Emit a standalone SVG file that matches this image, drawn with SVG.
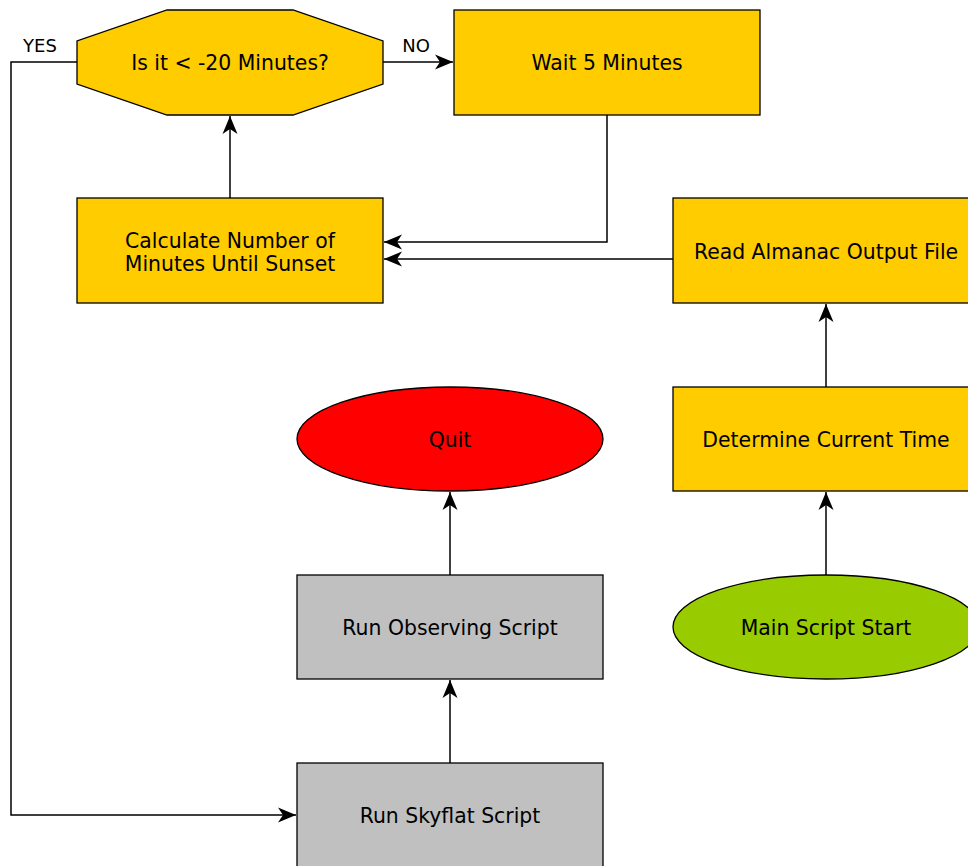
<svg xmlns="http://www.w3.org/2000/svg" width="968" height="866" viewBox="0 0 968 866">
<defs>
<style>
.n{stroke:#000;stroke-width:1.3}
.y{fill:#ffcc00}
.g{fill:#c0c0c0}
.t{font-family:"DejaVu Sans",sans-serif;font-size:20.4px;fill:#000;text-anchor:middle}
.l{font-family:"DejaVu Sans",sans-serif;font-size:18px;fill:#000;text-anchor:middle}
.c{fill:none;stroke:#000;stroke-width:1.5}
</style>
<marker id="a" markerUnits="userSpaceOnUse" markerWidth="20" markerHeight="20" viewBox="-19 -9 20 18" refX="0" refY="0" orient="auto">
<path d="M0,0 L-18,-7.5 L-13,0 L-18,7.5 Z" fill="#000"/>
</marker>
</defs>
<rect width="968" height="866" fill="#fff"/>
<g id="connectors">
<polyline class="c" points="77,62 11,62 11,815 296,815" marker-end="url(#a)"/>
<line class="c" x1="383" y1="62" x2="453" y2="62" marker-end="url(#a)"/>
<polyline class="c" points="607,115 607,242 384,242" marker-end="url(#a)"/>
<line class="c" x1="673" y1="259" x2="384" y2="259" marker-end="url(#a)"/>
<line class="c" x1="230" y1="198" x2="230" y2="116" marker-end="url(#a)"/>
<line class="c" x1="826" y1="387" x2="826" y2="304" marker-end="url(#a)"/>
<line class="c" x1="826" y1="575" x2="826" y2="492" marker-end="url(#a)"/>
<line class="c" x1="450" y1="575" x2="450" y2="492" marker-end="url(#a)"/>
<line class="c" x1="450" y1="763" x2="450" y2="680" marker-end="url(#a)"/>
<text class="l" x="40" y="52">YES</text>
<text class="l" x="416" y="52">NO</text>
</g>
<g id="decision">
<polygon class="n y" points="167,10 293,10 383,41 383,84 293,115 167,115 77,84 77,41"/>
<text class="t" x="230" y="70">Is it &lt; -20 Minutes?</text>
</g>
<g id="wait">
<rect class="n y" x="454" y="10" width="306" height="105"/>
<text class="t" x="607" y="70">Wait 5 Minutes</text>
</g>
<g id="calculate">
<rect class="n y" x="77" y="198" width="306" height="105"/>
<text class="t" x="230" y="248">Calculate Number of</text>
<text class="t" x="230" y="271">Minutes Until Sunset</text>
</g>
<g id="read">
<rect class="n y" x="673" y="198" width="306" height="105"/>
<text class="t" x="826" y="259">Read Almanac Output File</text>
</g>
<g id="determine">
<rect class="n y" x="673" y="387" width="306" height="104"/>
<text class="t" x="826" y="447">Determine Current Time</text>
</g>
<g id="main">
<ellipse class="n" fill="#99cc00" cx="826" cy="627" rx="153" ry="52"/>
<text class="t" x="826" y="635">Main Script Start</text>
</g>
<g id="quit">
<ellipse class="n" fill="#ff0000" cx="450" cy="439" rx="153" ry="52"/>
<text class="t" x="450" y="447">Quit</text>
</g>
<g id="observing">
<rect class="n g" x="297" y="575" width="306" height="104"/>
<text class="t" x="450" y="635">Run Observing Script</text>
</g>
<g id="skyflat">
<rect class="n g" x="297" y="763" width="306" height="105"/>
<text class="t" x="450" y="823">Run Skyflat Script</text>
</g>
</svg>
